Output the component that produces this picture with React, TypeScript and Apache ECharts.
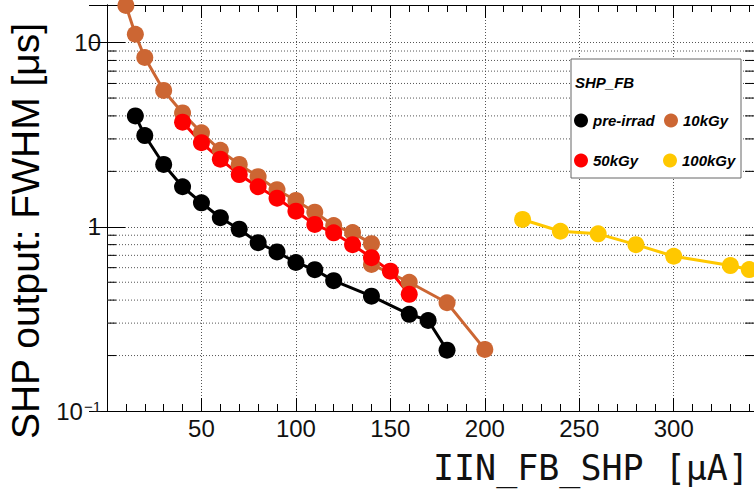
import React, { useEffect, useRef } from "react";
import * as echarts from "echarts";

// ---- data ----
const PRE_X = [15, 20, 30, 40, 50, 60, 70, 80, 90, 100, 110, 120, 140, 160, 170, 180];
const PRE_Y = [4.0, 3.13, 2.18, 1.65, 1.35, 1.12, 0.97, 0.82, 0.73, 0.64, 0.585, 0.51, 0.42, 0.335, 0.31, 0.214];

const K10_X = [10, 15, 20, 30, 40, 50, 60, 70, 80, 90, 100, 110, 120, 130, 140, 140, 160, 180, 200];
const K10_Y = [15.9, 11.1, 8.3, 5.5, 4.15, 3.24, 2.6, 2.18, 1.87, 1.59, 1.39, 1.2, 1.016, 0.93, 0.81, 0.625, 0.5, 0.387, 0.216];

const K50_X = [40, 50, 60, 70, 80, 90, 100, 110, 120, 130, 140, 150, 160];
const K50_Y = [3.7, 2.86, 2.33, 1.92, 1.65, 1.43, 1.215, 1.03, 0.928, 0.8, 0.68, 0.574, 0.43];

const K100_X = [220, 240, 260, 280, 300, 330, 340];
const K100_Y = [1.096, 0.946, 0.916, 0.8, 0.692, 0.616, 0.586];

const SERIES_NAMES = ["pre-irrad", "10kGy", "50kGy", "100kGy"];
const SERIES_COLORS = ["#000000", "#CC6633", "#FF0000", "#FFC800"];

// axis ticks / labels
const X_MIN = 0;
const X_MAX = 342.5;
const X_LABELS = [50, 100, 150, 200, 250, 300];
const Y_MIN = 0.1;
const Y_MAX = 16;
const Y_DECADES = [0.1, 1, 10];
const Y_DECADE_LABELS = ["10{s|−1}", "1", "10"];
const Y_MINOR = [0.2, 0.3, 0.4, 0.5, 0.6, 0.7, 0.8, 0.9, 2, 3, 4, 5, 6, 7, 8, 9];

const LEGEND_TITLE = "SHP_FB";
const X_TITLE = "IIN_FB_SHP [μA]";
const Y_TITLE = "SHP output: FWHM [μs]";

const zip = (xs: number[], ys: number[]) => xs.map((x, i) => [x, ys[i]]);

const FONT = "'Liberation Sans', Arial, Helvetica, sans-serif";

export default function App() {
  const ref = useRef<HTMLDivElement>(null);
  useEffect(() => {
    if (!ref.current) return;
    const chart = echarts.init(ref.current, undefined, { renderer: "svg" });

    const baseX = {
      type: "value",
      min: X_MIN,
      max: X_MAX,
      axisLabel: { show: false },
      splitLine: { show: false },
      axisLine: { show: false },
    };

    const dataSets = [zip(PRE_X, PRE_Y), zip(K10_X, K10_Y), zip(K50_X, K50_Y), zip(K100_X, K100_Y)];

    const legendPos = [
      { left: 569, top: 108 },
      { left: 659, top: 108 },
      { left: 569, top: 148 },
      { left: 658, top: 148 },
    ];

    const option: any = {
      animation: false,
      grid: {
        left: 107,
        right: 0,
        top: 5,
        bottom: 82,
        containLabel: false,
        outerBoundsMode: "none",
      },
      xAxis: [
        {
          ...baseX,
          position: "bottom",
          interval: 10,
          axisLine: { show: true, lineStyle: { color: "#000", width: 1 } },
          axisTick: { show: true, inside: true, length: 7, lineStyle: { color: "#000" } },
          axisLabel: {
            show: true,
            fontFamily: FONT,
            fontSize: 24,
            color: "#111",
            margin: 5,
            formatter: (v: number) => (X_LABELS.includes(Math.round(v * 1000) / 1000) ? String(v) : ""),
          },
          name: X_TITLE,
          nameLocation: "end",
          nameGap: -5,
          nameTextStyle: {
            fontFamily: "'DejaVu Sans Mono', monospace",
            fontSize: 35,
            color: "#111",
            align: "right",
            verticalAlign: "top",
            padding: [39, 0, 0, 0],
          },
        },
        {
          ...baseX,
          position: "bottom",
          interval: 50,
          axisTick: { show: true, inside: true, length: 13, lineStyle: { color: "#000" } },
          splitLine: { show: true, lineStyle: { color: "#555", type: [1, 2], width: 1 } },
        },
        {
          ...baseX,
          position: "top",
          interval: 10,
          axisLine: { show: true, lineStyle: { color: "#000", width: 1 } },
          axisTick: { show: true, inside: true, length: 7, lineStyle: { color: "#000" } },
        },
        {
          ...baseX,
          position: "top",
          interval: 50,
          axisTick: { show: true, inside: true, length: 13, lineStyle: { color: "#000" } },
        },
      ],
      yAxis: [
        {
          type: "log",
          logBase: 10,
          min: Y_MIN,
          max: Y_MAX,
          position: "left",
          axisLine: { show: true, lineStyle: { color: "#000", width: 1 } },
          axisTick: { show: true, inside: true, length: 18, lineStyle: { color: "#000" } },
          splitLine: { show: true, lineStyle: { color: "#555", type: [1, 2], width: 1 } },
          axisLabel: {
            show: true,
            fontFamily: FONT,
            fontSize: 24,
            color: "#111",
            margin: 6,
            formatter: (v: number) => {
              const i = Y_DECADES.findIndex((d) => Math.abs(d - v) < 1e-9);
              return i >= 0 ? Y_DECADE_LABELS[i] : "";
            },
            rich: {
              s: { fontFamily: FONT, fontSize: 15, color: "#111", verticalAlign: "top", padding: [0, 0, 10, 1] },
            },
          },
          name: Y_TITLE,
          nameLocation: "middle",
          nameRotate: 90,
          nameGap: 60,
          nameTextStyle: {
            fontFamily: FONT,
            fontSize: 39,
            color: "#000",
            padding: [0, 46, 0, 0],
          },
        },
        {
          type: "log",
          logBase: 10,
          min: Y_MIN,
          max: Y_MAX,
          position: "right",
          axisLine: { show: true, lineStyle: { color: "#000", width: 1 } },
          axisTick: { show: true, inside: true, length: 18, lineStyle: { color: "#000" } },
          splitLine: { show: false },
          axisLabel: { show: false },
        },
      ],
      legend: SERIES_NAMES.map((n, i) => ({
        data: [n],
        left: legendPos[i].left,
        top: legendPos[i].top,
        orient: "horizontal",
        icon: "circle",
        itemWidth: 14,
        itemHeight: 14,
        selectedMode: false,
        z: 6,
        textStyle: {
          fontFamily: FONT,
          fontSize: 15,
          fontStyle: "italic",
          fontWeight: "bold",
          color: "#000",
        },
      })),
      graphic: [
        {
          type: "rect",
          z: 5,
          shape: { x: 571, y: 59, width: 170, height: 119 },
          style: { fill: "#fff", stroke: "#666", lineWidth: 1 },
        },
        {
          type: "text",
          z: 6,
          x: 575,
          y: 82,
          style: {
            text: LEGEND_TITLE,
            fontFamily: FONT,
            fontSize: 15,
            fontStyle: "italic",
            fontWeight: "bold",
            fill: "#000",
            verticalAlign: "middle",
          },
        },
      ],
      series: [
        {
          type: "custom",
          name: "minor-grid",
          silent: true,
          z: 1,
          xAxisIndex: 0,
          yAxisIndex: 0,
          data: Y_MINOR.map((v) => [X_MIN, v]),
          encode: { x: 0, y: 1 },
          renderItem: (_p: any, api: any) => {
            const v = api.value(1);
            const l = api.coord([X_MIN, v]);
            const r = api.coord([X_MAX, v]);
            return {
              type: "group",
              children: [
                {
                  type: "line",
                  shape: { x1: l[0], y1: l[1], x2: r[0], y2: r[1] },
                  style: { stroke: "#555", lineWidth: 1, lineDash: [1, 2] },
                },
                {
                  type: "line",
                  shape: { x1: l[0], y1: l[1], x2: l[0] + 9, y2: l[1] },
                  style: { stroke: "#000", lineWidth: 1 },
                },
                {
                  type: "line",
                  shape: { x1: r[0] - 9, y1: r[1], x2: r[0], y2: r[1] },
                  style: { stroke: "#000", lineWidth: 1 },
                },
              ],
            };
          },
        },
        ...SERIES_NAMES.map((n, i) => ({
          type: "line",
          name: n,
          xAxisIndex: 0,
          yAxisIndex: 0,
          data: dataSets[i],
          symbol: "circle",
          symbolSize: 17,
          z: 3,
          itemStyle: { color: SERIES_COLORS[i] },
          lineStyle: { color: SERIES_COLORS[i], width: 3 },
        })),
      ],
    };

    chart.setOption(option);
    return () => chart.dispose();
  }, []);

  return (
    <div
      ref={ref}
      style={{ position: "fixed", left: 0, top: 0, width: 754, height: 493, background: "#fff" }}
    />
  );
}
